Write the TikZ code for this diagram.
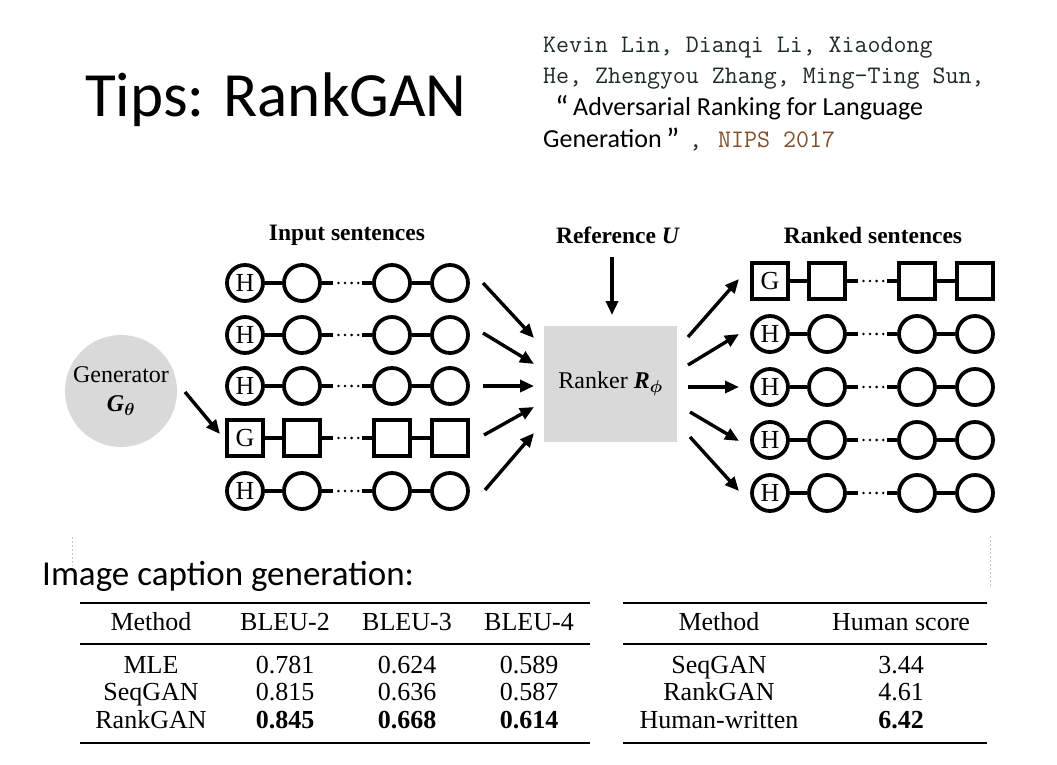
\documentclass[tikz,border=0pt]{standalone}
\usepackage{fontspec}
\usepackage{amsmath}
\setmainfont{Liberation Serif}
\newfontfamily\cali{Carlito}
\usetikzlibrary{arrows.meta,calc}
\definecolor{boxgray}{RGB}{217,217,217}
\definecolor{authc}{RGB}{30,42,36}
\definecolor{nipsc}{RGB}{130,78,40}
\newcommand\myfs[2]{\fontsize{#1}{#2}\selectfont}
\newcommand\seqrow[5]{%
  \node[#4] (#1a) at (#2+245,#3) {#5};
  \node[#4] (#1b) at (#2+302,#3) {};
  \node[#4] (#1c) at (#2+392,#3) {};
  \node[#4] (#1d) at (#2+450,#3) {};
  \draw[conn] (#1a) -- (#1b);
  \draw[conn] (#1c) -- (#1d);
  \draw[conn] (#1b.east) -- ++(11,0);
  \draw[conn] (#1c.west) -- ++(-10,0);
  \foreach \k in {0,...,3} \fill ($(#1b.east)+(16.5+\k*6.6,0)$) circle (1.4pt);
}
\begin{document}
\begin{tikzpicture}[x=1pt,y=-1pt,
  tok/.style={circle, draw, line width=3.8pt, minimum size=36pt, inner sep=0pt, font=\myfs{26}{26}},
  sq/.style={rectangle, draw, line width=3.8pt, minimum size=36pt, inner sep=0pt, font=\myfs{26}{26}},
  conn/.style={line width=3.6pt},
  arr/.style={line width=3.4pt, -{Triangle[length=14pt,width=12pt]}},
  lab/.style={font=\myfs{23.5}{28}, inner sep=0pt},
  txt/.style={anchor=base west, inner sep=0pt},
  cell/.style={anchor=base, inner sep=0pt, font=\myfs{26}{26}},
  rule/.style={line width=2.6pt}]
\useasboundingbox (0,0) rectangle (1057,765);

% title and citation
\node[txt, font=\cali\myfs{63}{63}] (title) at (85,117) {Tips: RankGAN};
\node[txt, text=authc, font=\ttfamily\myfs{25.2}{25.2}] (cit1) at (543,53) {Kevin Lin, Dianqi Li, Xiaodong};
\node[txt, text=authc, font=\ttfamily\myfs{25.2}{25.2}] (cit2) at (543,84) {He, Zhengyou Zhang, Ming-Ting Sun,};
\node[txt, font=\cali\myfs{32}{32}] (q1) at (555,119) {“};
\node[txt, font=\cali\myfs{26}{26}] (cit3) at (573,116) {Adversarial Ranking for Language};
\node[txt, font=\cali\myfs{26}{26}] (cit4) at (543,147) {Generation};
\node[txt, font=\cali\myfs{32}{32}] (q2) at (666,150) {”};
\node[txt, text=authc, font=\ttfamily\myfs{25.2}{25.2}] (comma) at (689,147) {,};
\node[txt, text=nipsc, font=\ttfamily\myfs{25.2}{25.2}] (nips) at (718,147) {NIPS 2017};

% headings
\node[lab, font=\bfseries\myfs{23.5}{28}] (inlab) at (347,235) {Input sentences};
\node[lab, font=\bfseries\myfs{23.5}{28}] (reflab) at (618,235) {Reference \textit{U}};
\node[lab, font=\bfseries\myfs{23.5}{28}] (ranklab) at (873,235) {Ranked sentences};

% generator
\node[circle, fill=boxgray, minimum size=112pt, inner sep=0pt, align=center, font=\myfs{24}{29}] (gen) at (121,391)
  {Generator\\{\bfseries\itshape G}$_{\boldsymbol{\theta}}$};

% input sentences
\seqrow{i1}{0}{283}{tok}{H}
\seqrow{i2}{0}{335}{tok}{H}
\seqrow{i3}{0}{386}{tok}{H}
\seqrow{i4}{0}{438}{sq}{G}
\seqrow{i5}{0}{491}{tok}{H}

% ranked sentences
\seqrow{o1}{525}{281}{sq}{G}
\seqrow{o2}{525}{334}{tok}{H}
\seqrow{o3}{525}{387}{tok}{H}
\seqrow{o4}{525}{440}{tok}{H}
\seqrow{o5}{525}{493}{tok}{H}

% ranker
\node[fill=boxgray, minimum width=133pt, minimum height=116pt, inner sep=0pt, font=\myfs{24}{28}] (rank) at (610.5,384)
  {Ranker {\bfseries\itshape R}$_{\boldsymbol{\phi}}$};

% arrows
\coordinate (gs) at (185,392);
\coordinate (ge) at (220,434);
\draw[arr] (gs) -- (ge);
\coordinate (rs) at (612,257);
\coordinate (re) at (612,315);
\draw[arr] (rs) -- (re);

\coordinate (a1s) at (483,283); \coordinate (a1e) at (534,338);
\coordinate (a2s) at (483,333); \coordinate (a2e) at (534,364);
\coordinate (a3s) at (483,386); \coordinate (a3e) at (534,386);
\coordinate (a4s) at (484,435); \coordinate (a4e) at (534,407);
\coordinate (a5s) at (485,490); \coordinate (a5e) at (534,433);
\foreach \i in {1,...,5} \draw[arr] (a\i s) -- (a\i e);

\coordinate (b1s) at (688,337); \coordinate (b1e) at (739,279);
\coordinate (b2s) at (688,365); \coordinate (b2e) at (739,334);
\coordinate (b3s) at (688,387); \coordinate (b3e) at (739,387);
\coordinate (b4s) at (690,412); \coordinate (b4e) at (739,441);
\coordinate (b5s) at (690,437); \coordinate (b5e) at (739,491);
\foreach \i in {1,...,5} \draw[arr] (b\i s) -- (b\i e);

% faint placeholder marks
\draw[gray!45, line width=0.8pt, dash pattern=on 2pt off 2pt] (72,537) -- (72,566);
\draw[gray!45, line width=0.8pt, dash pattern=on 2pt off 2pt] (990,536) -- (990,586);

\node[txt, font=\cali\myfs{35}{35}] (cap) at (42,585) {Image caption generation:};

% left table
\draw[rule] (80,603) -- (590,603);
\draw[rule] (80,644) -- (590,644);
\draw[rule] (80,743) -- (590,743);
\node[cell] at (151,630) {Method};
\node[cell] at (285,630) {BLEU-2};
\node[cell] at (407,630) {BLEU-3};
\node[cell] at (529,630) {BLEU-4};
\node[cell] at (151,673) {MLE};
\node[cell] at (285,673) {0.781};
\node[cell] at (407,673) {0.624};
\node[cell] at (529,673) {0.589};
\node[cell] at (151,700) {SeqGAN};
\node[cell] at (285,700) {0.815};
\node[cell] at (407,700) {0.636};
\node[cell] at (529,700) {0.587};
\node[cell] at (151,728) {RankGAN};
\node[cell, font=\bfseries\myfs{26}{26}] at (285,728) {0.845};
\node[cell, font=\bfseries\myfs{26}{26}] at (407,728) {0.668};
\node[cell, font=\bfseries\myfs{26}{26}] at (529,728) {0.614};

% right table
\draw[rule] (623,603) -- (987,603);
\draw[rule] (623,644) -- (987,644);
\draw[rule] (623,743) -- (987,743);
\node[cell] at (719,630) {Method};
\node[cell] at (901,630) {Human score};
\node[cell] at (719,673) {SeqGAN};
\node[cell] at (901,673) {3.44};
\node[cell] at (719,700) {RankGAN};
\node[cell] at (901,700) {4.61};
\node[cell] at (719,728) {Human-written};
\node[cell, font=\bfseries\myfs{26}{26}] at (901,728) {6.42};
\end{tikzpicture}
\end{document}
